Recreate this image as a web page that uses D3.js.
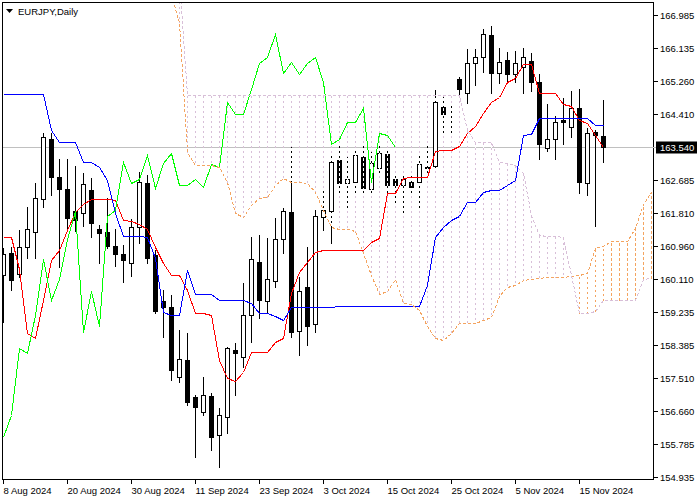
<!DOCTYPE html>
<html><head><meta charset="utf-8">
<script src="https://cdn.jsdelivr.net/npm/d3@7"></script>
<style>
html,body{margin:0;padding:0;background:#fff;}
svg{display:block;font-family:"Liberation Sans",Arial,sans-serif;}
</style></head><body>
<svg id="c" width="700" height="500"></svg>
<script>
// ---- data ----
const symbolTitle = "EURJPY,Daily";
const dateTickIndex = [0, 8, 16, 24, 32, 40, 48, 56, 64, 72];
const dateTickLabels = ["8 Aug 2024", "20 Aug 2024", "30 Aug 2024", "11 Sep 2024", "23 Sep 2024",
  "3 Oct 2024", "15 Oct 2024", "25 Oct 2024", "5 Nov 2024", "15 Nov 2024"];
const priceTicks = [166.985, 166.135, 165.260, 164.410, 162.685, 161.810, 160.960, 160.110,
  159.235, 158.385, 157.510, 156.660, 155.785, 154.935];
const lastPrice = 163.540;

const open = [160.20,160.78,160.23,160.93,161.33,162.19,163.75,162.76,162.45,161.87,
  161.82,162.42,161.40,161.33,160.96,160.75,160.52,161.46,162.60,160.73,
  159.53,159.37,157.54,157.99,157.02,156.63,157.05,156.03,156.50,158.25,
  158.06,159.16,160.54,159.53,160.05,161.14,161.85,158.74,159.89,158.93,
  161.72,161.87,163.20,162.60,162.63,163.28,162.45,162.99,163.36,162.71,
  162.55,162.63,162.63,162.99,163.05,164.58,164.40,165.32,164.95,165.73,
  165.89,166.46,165.47,165.81,165.45,165.63,165.79,165.24,163.52,163.75,
  164.25,164.06,164.56,162.60,163.93,163.83];
const high = [160.91,160.93,161.38,161.98,162.60,163.91,163.91,163.23,163.23,163.05,
  162.86,162.73,161.51,162.21,161.40,160.99,161.66,162.89,162.81,160.86,
  159.81,159.68,158.77,158.69,157.07,157.54,157.13,156.73,158.33,158.43,
  159.99,161.19,161.25,161.17,161.69,161.95,163.54,160.15,160.93,161.90,
  162.47,163.39,163.59,163.28,163.52,163.59,163.41,163.57,163.46,162.86,
  162.86,162.86,163.33,163.65,165.03,164.85,164.69,165.37,166.10,166.10,
  166.62,166.70,166.12,166.02,166.05,166.12,165.99,165.45,164.66,164.35,
  164.82,165.00,165.05,164.04,163.99,164.77];
const low = [158.98,159.81,160.15,160.65,160.65,161.98,162.29,160.41,161.38,161.35,
  161.48,161.19,160.52,160.91,160.44,160.02,160.18,161.04,160.52,159.21,
  158.59,157.46,157.41,156.81,155.46,156.55,155.64,155.20,156.08,157.07,
  157.80,158.46,159.08,159.24,159.89,160.78,158.59,158.12,158.38,158.72,
  161.38,161.04,162.34,161.90,162.37,162.29,162.34,162.89,162.34,162.11,
  161.82,162.29,161.98,162.81,163.02,163.86,163.86,164.92,164.69,165.16,
  165.50,164.95,165.21,165.24,165.24,164.95,165.00,163.23,163.44,163.23,
  163.62,163.80,162.34,162.29,161.48,163.15];
const close = [160.75,160.07,160.93,161.40,162.21,163.80,162.76,162.45,161.69,161.64,
  162.58,161.56,161.30,160.96,160.75,160.59,161.46,162.63,160.65,159.26,
  159.37,157.73,158.01,156.89,156.76,157.07,155.98,156.55,158.30,158.17,
  159.16,160.62,159.55,160.10,161.14,161.87,158.72,159.79,158.88,161.74,
  161.90,163.15,162.60,162.71,163.33,162.47,163.13,163.39,162.55,162.55,
  162.71,162.50,163.10,163.02,164.71,164.40,164.41,165.06,165.73,165.89,
  166.49,165.47,165.76,165.45,165.73,165.89,165.24,163.62,163.75,164.19,
  164.19,164.56,162.63,163.91,163.86,163.54];

// Ichimoku lines
const tenkan = [161.19,161.19,160.36,158.69,158.56,159.55,160.59,160.86,161.38,161.85,
  162.06,162.19,162.19,162.19,162.16,161.64,161.61,161.53,161.40,160.93,
  160.52,160.20,160.20,159.81,159.21,159.21,159.16,157.99,157.52,157.44,
  157.67,158.19,158.19,158.19,158.46,158.56,159.73,160.28,160.54,160.80,
  160.86,160.86,160.86,160.86,160.86,160.86,161.06,161.17,162.34,162.34,
  162.73,162.76,162.76,162.76,163.44,163.46,163.46,163.57,163.91,164.09,
  164.43,164.72,164.85,165.24,165.34,165.71,165.71,164.95,164.95,164.95,
  164.66,164.61,164.25,164.17,163.86,163.54];
const kijun = [164.92,164.92,164.92,164.92,164.92,164.92,163.99,163.67,163.67,163.67,
  163.15,163.15,163.02,162.68,161.82,161.22,161.22,161.22,161.19,160.65,
  159.24,159.16,159.16,160.33,159.71,159.71,159.71,159.55,159.55,159.55,
  159.55,159.47,159.21,159.21,159.13,159.03,159.37,159.37,159.37,159.37,
  159.37,159.37,159.40,159.40,159.40,159.40,159.40,159.40,159.40,159.40,
  159.40,159.40,159.40,159.95,161.19,161.46,161.64,161.74,162.11,162.11,
  162.37,162.42,162.42,162.55,162.68,163.86,163.88,164.30,164.30,164.30,
  164.30,164.30,164.30,164.30,164.12,164.12];
const chikouShift = 26;
const spanStart = 21; // first bar index of the visible senkou spans
const spanA = [167.51,166.80,163.41,163.07,163.07,163.07,163.02,162.63,161.82,161.72,
  162.03,162.21,162.24,162.55,162.73,162.63,162.63,162.60,162.37,161.90,
  161.46,161.40,161.40,161.35,160.78,160.20,159.71,159.79,160.10,159.47,
  159.45,159.29,158.87,158.56,158.51,158.69,158.95,158.95,158.95,159.03,
  159.11,159.66,159.89,159.94,160.07,160.10,160.13,160.15,160.15,160.15,
  160.18,160.20,160.26,160.91,160.96,161.09,161.09,161.09,161.43,162.05,
  162.37];
const spanB = [168.50,168.00,164.90,164.90,164.90,164.90,164.90,164.90,164.90,164.90,
  164.90,164.90,164.90,164.90,164.90,164.90,164.90,164.90,164.90,164.90,
  164.90,164.90,164.90,164.90,164.90,164.90,164.90,164.90,164.90,164.90,
  164.90,164.90,164.90,164.90,164.90,164.90,164.90,163.99,163.67,163.67,
  163.67,163.15,163.12,163.07,162.86,161.77,161.25,161.22,161.22,161.19,
  160.20,159.21,159.21,159.26,159.55,159.55,159.55,159.55,159.55,160.10,
  160.13];

// ---- drawing ----
const svg = d3.select("#c");
const L = 2, T = 2, R = 653, B = 479;
const lastIndex = spanStart + spanA.length - 1;
const x = d3.scaleLinear().domain([0, lastIndex]).range([3.5, 3.5 + 8 * lastIndex]);
const y = d3.scaleLinear().domain([154.935, 166.985]).range([477, 15]);
const row = v => Math.round(y(v));

svg.append("defs").append("clipPath").attr("id", "plot")
  .append("rect").attr("x", L + 1).attr("y", T + 1).attr("width", R - L - 1).attr("height", B - T - 1);
const g = svg.append("g").attr("clip-path", "url(#plot)");

// bid line
g.append("line").attr("x1", L).attr("x2", R).attr("y1", row(lastPrice) + 0.5).attr("y2", row(lastPrice) + 0.5)
  .attr("stroke", "#c0c0c0").attr("stroke-width", 1).attr("shape-rendering", "crispEdges");

// cloud hatching
const cloud = spanA.map((a, k) => ({ i: spanStart + k, a, b: spanB[k] }));
const DASH = "3,2";
g.append("g").selectAll("line").data(cloud).join("line")
  .attr("x1", d => x(d.i)).attr("x2", d => x(d.i))
  .attr("y1", d => row(d.b) + 0.5).attr("y2", d => row(d.a) + 0.5)
  .attr("stroke", d => d.a >= d.b ? "#f4a460" : "#d8bfd8")
  .attr("stroke-width", 1).attr("stroke-dasharray", DASH).attr("shape-rendering", "crispEdges");

// candles
const bars = open.map((o, i) => ({ i, o, h: high[i], l: low[i], c: close[i] }));
const cg = g.append("g").attr("shape-rendering", "crispEdges");
cg.selectAll("line").data(bars).join("line")
  .attr("x1", d => x(d.i)).attr("x2", d => x(d.i))
  .attr("y1", d => row(d.h)).attr("y2", d => row(d.l) + 1)
  .attr("stroke", "#000").attr("stroke-width", 1);
cg.selectAll("rect").data(bars).join("rect")
  .each(function (d) {
    const top = row(Math.max(d.o, d.c)), bot = row(Math.min(d.o, d.c));
    const s = d3.select(this);
    if (d.c >= d.o) {
      s.attr("x", x(d.i) - 2).attr("width", 4).attr("y", top + 0.5).attr("height", Math.max(0, bot - top))
        .attr("fill", "#fff").attr("stroke", "#000").attr("stroke-width", 1);
    } else {
      s.attr("x", x(d.i) - 2.5).attr("width", 5).attr("y", top).attr("height", Math.max(1, bot - top + 1))
        .attr("fill", "#000");
    }
  });

// hatching gaps drawn over candles (MT4 dotted pen with opaque background)
g.append("g").selectAll("line").data(cloud.filter(d => d.i < open.length)).join("line")
  .attr("x1", d => x(d.i)).attr("x2", d => x(d.i))
  .attr("y1", d => row(d.b) + 0.5).attr("y2", d => row(d.a) + 0.5)
  .attr("stroke", "#fff").attr("stroke-width", 1).attr("stroke-dasharray", DASH)
  .attr("stroke-dashoffset", 3).attr("shape-rendering", "crispEdges");

// lines
const lineGen = (arr, start) => d3.line().x((v, k) => x(start + k)).y(v => row(v) + 0.5)(arr);
const lg = g.append("g").attr("fill", "none").attr("stroke-width", 1).attr("shape-rendering", "crispEdges");
lg.append("path").attr("d", lineGen(tenkan, 0)).attr("stroke", "#ff0000");
lg.append("path").attr("d", lineGen(kijun, 0)).attr("stroke", "#0000ff");
const chikou = close.slice(chikouShift);
lg.append("path").attr("d", lineGen(chikou, 0)).attr("stroke", "#00ff00");
lg.append("path").attr("d", lineGen(spanA, spanStart)).attr("stroke", "#f4a460").attr("stroke-dasharray", DASH);
lg.append("path").attr("d", lineGen(spanB, spanStart)).attr("stroke", "#d8bfd8").attr("stroke-dasharray", DASH);

// frame
svg.append("rect").attr("x", L + 0.5).attr("y", T + 0.5).attr("width", R - L).attr("height", B - T)
  .attr("fill", "none").attr("stroke", "#000").attr("stroke-width", 1).attr("shape-rendering", "crispEdges");

// right price axis
const ax = svg.append("g").attr("font-size", "9.5px").attr("fill", "#000");
priceTicks.forEach(p => {
  const yy = row(p) + 0.5;
  ax.append("line").attr("x1", R + 1).attr("x2", R + 5).attr("y1", yy).attr("y2", yy)
    .attr("stroke", "#000").attr("shape-rendering", "crispEdges");
  ax.append("text").attr("x", 660).attr("y", yy + 3.5).text(p.toFixed(3));
});
const ly = row(lastPrice) + 0.5;
ax.append("line").attr("x1", R).attr("x2", 657).attr("y1", ly).attr("y2", ly).attr("stroke", "#c0c0c0");
ax.append("rect").attr("x", 656).attr("y", ly - 6).attr("width", 41).attr("height", 12).attr("fill", "#000");
ax.append("text").attr("x", 660).attr("y", ly + 3.5).attr("fill", "#fff").text(lastPrice.toFixed(3));

// bottom time axis
const tx = svg.append("g").attr("font-size", "9.5px").attr("fill", "#000");
dateTickIndex.forEach((idx, k) => {
  const xx = Math.floor(x(idx)) + 0.5;
  tx.append("line").attr("x1", xx).attr("x2", xx).attr("y1", B).attr("y2", B + 5)
    .attr("stroke", "#000").attr("shape-rendering", "crispEdges");
  tx.append("text").attr("x", xx).attr("y", 494).text(dateTickLabels[k]);
});

// title
svg.append("path").attr("d", "M6,9 L13,9 L9.5,13 Z").attr("fill", "#000");
svg.append("text").attr("x", 18).attr("y", 14.5).attr("font-size", "9.5px").attr("fill", "#000").text(symbolTitle);
</script>
</body></html>
